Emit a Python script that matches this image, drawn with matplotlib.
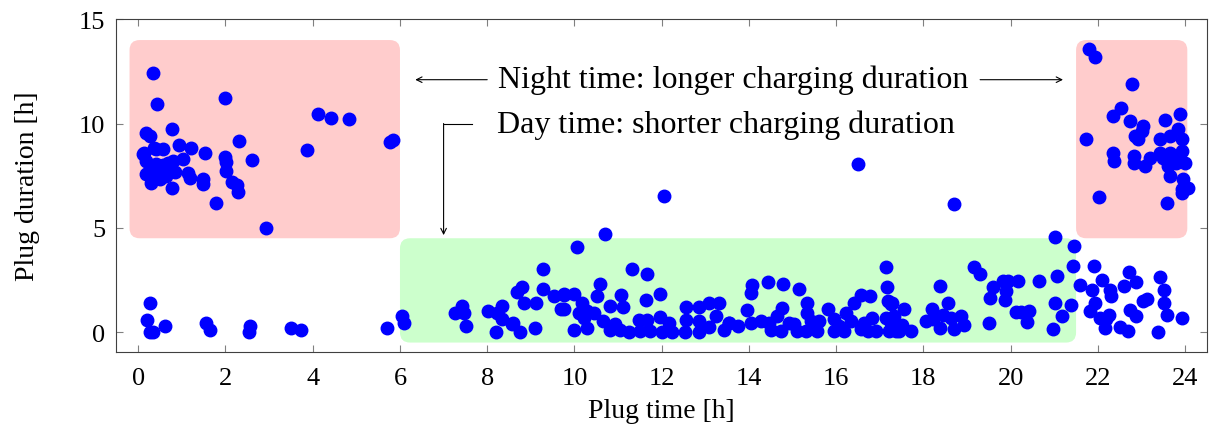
import matplotlib
matplotlib.use("Agg")
import matplotlib.pyplot as plt
from matplotlib.patches import FancyBboxPatch

plt.rcParams.update({
    "font.family": "serif",
    "font.serif": ['Liberation Serif', 'DejaVu Serif'],
})
plt.rcParams['mathtext.fontset'] = 'stix'

# plug time [h], plug duration [h]
early_t = [0.34, 0.44, 1.99, 4.13, 4.43, 4.82, 5.78, 5.83, 3.86, 0.77, 0.17, 0.28,
           2.32, 0.93, 1.22, 1.52, 0.57, 0.37, 0.12, 2.0, 2.02, 2.61, 1.03, 0.8,
           0.68, 2.02, 1.14, 1.18, 0.85, 1.48, 1.49, 2.15, 2.27, 2.29, 0.77, 1.78,
           2.92, 0.14, 0.41, 0.18, 0.26, 0.41, 0.18, 0.34, 0.49, 0.64, 0.3, 0.49, 0.57]
early_d = [12.44, 10.92, 11.2, 10.45, 10.27, 10.24, 9.13, 9.2, 8.74, 9.73, 9.53, 9.41,
           9.17, 8.98, 8.82, 8.58, 8.8, 8.85, 8.56, 8.4, 8.16, 8.23, 8.29, 8.21,
           8.13, 7.73, 7.65, 7.41, 7.68, 7.33, 7.12, 7.22, 7.06, 6.74, 6.92, 6.18,
           4.97, 8.61, 8.77, 8.21, 7.89, 8.05, 7.57, 7.57, 7.73, 7.49, 7.17, 7.33, 8.0]

short_t = [0.26, 0.21, 0.26, 0.34, 0.62, 1.55, 1.65, 2.56, 2.53, 3.51, 3.74, 5.71,
           6.04, 6.09]
short_d = [1.42, 0.57, 0.01, 0.0, 0.3, 0.46, 0.1, 0.3, 0.0, 0.22, 0.11, 0.19,
           0.78, 0.42]

day_t = [9.29, 8.8, 8.68, 9.28, 9.52, 9.75, 8.85, 9.12, 9.7, 7.42, 7.27, 7.46, 7.51,
         8.01, 8.34, 8.22, 8.35, 8.6, 8.76, 8.21, 9.09, 8.57,
         10.06, 10.71, 11.32, 11.67, 10.59, 9.75, 9.98, 10.52, 11.07, 11.95, 11.63,
         10.17, 10.82, 11.11, 9.75, 10.1, 10.29, 10.44, 10.21, 10.66, 10.29, 9.98,
         10.94, 10.82, 11.05, 11.25, 11.48, 11.67, 11.51, 11.74, 11.97, 12.17, 12.01,
         12.24, 12.56, 12.85, 13.08, 13.31, 13.25, 12.55, 12.85, 13.08, 12.53, 12.85,
         13.43, 13.54, 12.06,
         14.08, 14.04, 14.44, 14.77, 15.15, 15.33, 15.33, 14.75, 14.65, 13.96, 13.54,
         13.75, 14.04, 14.27, 14.46, 14.5, 14.73, 14.92, 15.04, 15.11, 15.3, 15.42,
         15.61, 15.57, 15.82, 15.96, 16.22, 16.07, 16.18, 16.34, 15.96, 16.41, 16.57,
         16.78, 17.14, 17.16, 17.18, 17.26, 16.81, 16.64, 16.57, 16.72, 16.91, 17.14,
         17.26, 17.22, 17.37, 16.5,
         21.01, 19.17, 19.29, 18.37, 18.56, 18.2, 18.06, 18.21, 18.44, 18.63, 18.86,
         18.94, 18.71, 18.37, 17.29, 17.33, 17.56, 17.52, 17.71, 17.45, 19.5, 19.59,
         19.52, 19.82, 19.94, 19.9, 19.86, 20.17, 20.13, 20.24, 20.43, 20.38, 20.65,
         21.06, 21.01, 21.18, 20.98, 18.7]
day_d = [3.02, 2.17, 1.9, 2.06, 1.74, 1.77, 1.38, 1.39, 1.1, 1.26, 0.94, 0.91, 0.3,
         0.99, 1.23, 0.94, 0.62, 0.46, 0.03, 0.03, 0.22, 0.38,
         4.09, 4.7, 3.02, 2.81, 2.3, 1.82, 1.82, 1.74, 1.79, 1.85, 1.55,
         1.42, 1.26, 1.21, 1.1, 0.94, 1.02, 0.94, 0.7, 0.54, 0.22, 0.1,
         0.38, 0.1, 0.1, 0.03, 0.57, 0.57, 0.06, 0.06, 0.73, 0.46, 0.03,
         0.03, 1.21, 1.21, 1.38, 1.38, 0.78, 0.57, 0.51, 0.25, 0.03, 0.03,
         0.1, 0.46, 6.52,
         2.27, 1.87, 2.41, 2.33, 2.06, 1.38, 0.94, 1.18, 0.78, 1.05, 0.46,
         0.3, 0.46, 0.54, 0.46, 0.1, 0.06, 0.46, 0.38, 0.06, 0.06, 0.51,
         0.51, 0.06, 1.1, 0.62, 0.91, 0.3, 0.06, 0.51, 0.06, 1.38, 1.77,
         1.71, 3.1, 2.17, 1.5, 1.34, 0.7, 0.46, 0.14, 0.06, 0.06, 0.7,
         0.46, 0.06, 0.06, 8.05,
         4.54, 3.13, 2.81, 2.22, 1.42, 1.1, 0.54, 0.62, 0.81, 0.7, 0.75,
         0.34, 0.14, 0.18, 1.42, 0.78, 1.1, 0.34, 0.06, 0.06, 0.46, 2.14,
         1.66, 2.46, 2.46, 1.98, 1.53, 2.46, 0.97, 0.97, 1.02, 0.49, 2.43,
         2.7, 1.42, 0.75, 0.14, 6.13]

late_t = [21.45, 21.43, 21.6, 21.39, 21.9, 22.1, 21.87, 21.93, 21.83, 22.04, 22.19,
          22.25, 22.16, 22.27, 22.29, 22.5, 22.69, 22.59, 22.71, 22.87, 22.73, 22.88,
          23.04, 23.13, 23.42, 23.51, 23.52, 23.59, 23.38, 23.92,
          21.8, 21.93, 22.79, 22.52, 22.35, 22.73, 23.04, 23.0, 22.85, 22.92, 23.53,
          23.88, 23.84, 23.65, 23.42, 23.92, 21.73, 22.35, 22.37, 22.82, 22.82, 23.07,
          23.2, 23.42, 23.65, 23.5, 23.61, 23.72, 23.8, 23.92, 24.0, 23.65, 23.96,
          23.92, 24.07, 23.92, 22.02, 23.59, 23.61]
late_d = [4.14, 3.15, 2.27, 1.31, 3.15, 2.51, 2.01, 1.42, 1.02, 0.7, 0.62,
          0.81, 0.22, 2.03, 1.71, 0.27, 0.06, 2.19, 2.86, 2.38, 1.07, 0.78,
          1.5, 1.58, 2.62, 2.03, 1.38, 0.81, 0.01, 0.7,
          13.56, 13.21, 11.88, 10.75, 10.34, 10.1, 9.89, 9.65, 9.41, 9.28, 10.17,
          10.45, 9.73, 9.41, 9.25, 9.25, 9.25, 8.61, 8.21, 8.42, 8.13, 7.97,
          8.37, 8.58, 8.58, 8.37, 8.21, 8.29, 8.13, 8.69, 8.1, 7.49, 7.36,
          6.85, 6.89, 6.66, 6.5, 6.18, 7.97]

fig, ax = plt.subplots(figsize=(12.13, 4.39), dpi=100)
fig.subplots_adjust(left=0.096, right=0.995, bottom=0.196, top=0.954)

# shaded regions (rounded boxes)
asp = 2.09
for (x0, y0, w, h, c) in [(-0.2, 4.5, 6.2, 9.5, '#ffcccc'),
                          (21.5, 4.5, 2.55, 9.5, '#ffcccc'),
                          (6.0, -0.5, 15.5, 5.0, '#ccffcc')]:
    ax.add_patch(FancyBboxPatch((x0, y0), w, h, boxstyle="round,pad=0,rounding_size=0.23",
                                mutation_aspect=asp, fc=c, ec='none', zorder=0))

for t, d in [(early_t, early_d), (short_t, short_d), (day_t, day_d), (late_t, late_d)]:
    ax.plot(t, d, 'o', color='blue', ms=9, mec='blue', zorder=3)

# annotations
ax.text(13.65, 12.1, 'Night time: longer charging duration', fontsize=23,
        ha='center', va='center')
ax.annotate('', xy=(6.35, 12.1), xytext=(8.0, 12.1),
            arrowprops=dict(arrowstyle='->', lw=0.8, color='k', shrinkA=0, shrinkB=0))
ax.annotate('', xy=(21.2, 12.1), xytext=(19.3, 12.1),
            arrowprops=dict(arrowstyle='->', lw=0.8, color='k', shrinkA=0, shrinkB=0))
ax.text(8.23, 9.95, 'Day time: shorter charging duration', fontsize=23,
        ha='left', va='center')
ax.plot([7.65, 7.0], [10.0, 10.0], color='k', lw=0.8)
ax.annotate('', xy=(7.0, 4.65), xytext=(7.0, 10.0),
            arrowprops=dict(arrowstyle='->', lw=0.8, color='k', shrinkA=0, shrinkB=0))

ax.set_xlim(-0.5, 24.5)
ax.set_ylim(-0.95, 15)
ax.set_xticks(range(0, 25, 2))
ax.set_yticks([0, 5, 10, 15])
ax.tick_params(axis='both', which='major', labelsize=19, direction='in',
               top=True, right=True, length=5, color='#808080')
ax.tick_params(axis='x', pad=11)
ax.tick_params(axis='y', pad=8)
ax.set_xlabel('Plug time [h]', fontsize=20, labelpad=6)
ax.set_ylabel('Plug duration [h]', fontsize=20, labelpad=28)
for s in ax.spines.values():
    s.set_color('#404040')
plt.savefig('out.png', dpi=100)
